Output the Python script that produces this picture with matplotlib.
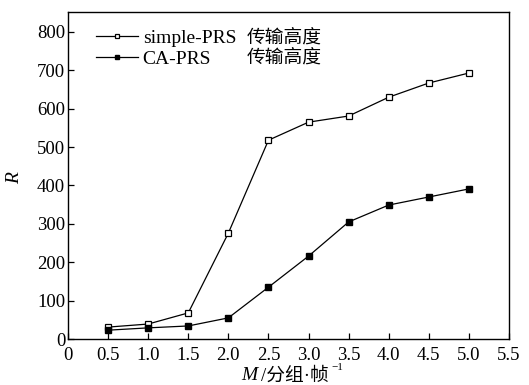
import numpy as np
import matplotlib.pyplot as plt

M = [0.5, 1.0, 1.5, 2.0, 2.5, 3.0, 3.5, 4.0, 4.5, 5.0]
simple_prs = [31, 39, 68, 276, 518, 565, 581, 630, 667, 693]
ca_prs = [23, 29, 34, 55, 135, 216, 305, 349, 370, 391]

xticks = [0, 0.5, 1.0, 1.5, 2.0, 2.5, 3.0, 3.5, 4.0, 4.5, 5.0, 5.5]
xticklabels = ['0', '0.5', '1.0', '1.5', '2.0', '2.5', '3.0', '3.5', '4.0', '4.5', '5.0', '5.5']
yticks = [0, 100, 200, 300, 400, 500, 600, 700, 800]

SERIF = ['Liberation Serif', 'Noto Sans CJK SC', 'DejaVu Sans']
CJK = ['Noto Sans CJK SC', 'DejaVu Sans']


def main():
    plt.rcParams['font.family'] = SERIF
    fig = plt.figure(figsize=(5.29, 3.85), dpi=100)
    ax = fig.add_axes([68 / 529, 46 / 385, 441 / 529, 327 / 385])

    ax.plot(M, simple_prs, '-s', color='black', lw=0.9, ms=4,
            mfc='white', mec='black', mew=0.9, label='simple-PRS')
    ax.plot(M, ca_prs, '-s', color='black', lw=0.9, ms=4,
            mfc='black', mec='black', label='CA-PRS')

    ax.set_xlim(0, 5.5)
    ax.set_ylim(0, 852)
    ax.set_xticks(xticks)
    ax.set_xticklabels(xticklabels)
    ax.set_yticks(yticks)
    ax.tick_params(direction='in', length=4, width=0.9, labelsize=13.5)
    ax.tick_params(axis='x', pad=6)
    ax.tick_params(axis='y', pad=2)
    for s in ax.spines.values():
        s.set_linewidth(1.0)

    ax.legend(loc='upper left', bbox_to_anchor=(28 / 441, 1 - 17 / 327), frameon=False,
              fontsize=14, handlelength=2.15, handletextpad=0.25, markerscale=0.8,
              labelspacing=0.2, borderaxespad=0, borderpad=0)

    # Chinese part of the legend entries
    ax.text(247 / 529, 1 - 37 / 385, '传输高度', transform=fig.transFigure,
            family=CJK, fontsize=13.5, va='center', ha='left')
    ax.text(247 / 529, 1 - 57 / 385, '传输高度', transform=fig.transFigure,
            family=CJK, fontsize=13.5, va='center', ha='left')

    # axis labels
    fig.text(15 / 529, 1 - 178 / 385, 'R', family='Liberation Serif', style='italic',
             fontsize=14, rotation=90, va='center', ha='center')
    fig.text(241 / 529, 1 - 376 / 385, 'M', family='Liberation Serif', style='italic',
             fontsize=14, va='center', ha='left')
    fig.text(261 / 529, 1 - 376 / 385, '/分组·帧', family=SERIF,
             fontsize=13.5, va='center', ha='left')
    fig.text(331 / 529, 1 - 368 / 385, '−1', family='Liberation Serif',
             fontsize=8, va='center', ha='left')

    fig.savefig('out.png', dpi=100)


if __name__ == "__main__":
    main()
